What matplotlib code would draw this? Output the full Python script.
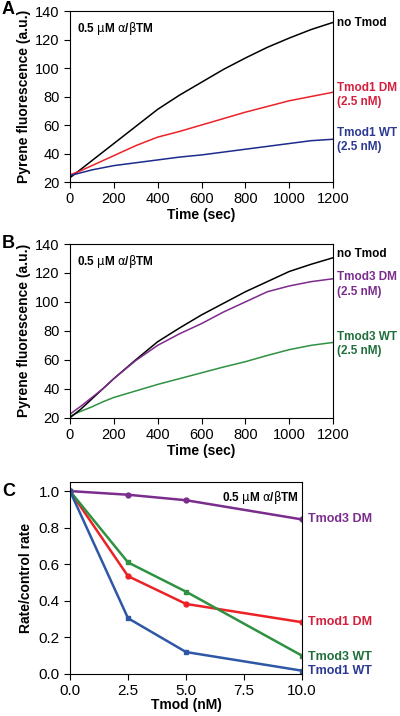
import numpy as np
import matplotlib
matplotlib.use('Agg')
import matplotlib.pyplot as plt
from matplotlib.ticker import FormatStrFormatter

plt.rcParams['font.family'] = ['Liberation Sans', 'DejaVu Sans']
plt.rcParams['mathtext.fontset'] = 'custom'
plt.rcParams['mathtext.rm'] = 'DejaVu Sans'
plt.rcParams['mathtext.it'] = 'DejaVu Sans'

#-------------------------------------------------------------------------------------
# panel A traces
time_a = [0, 50, 100, 150, 200, 300, 400, 500, 600, 700, 800, 900, 1000, 1100, 1200]
no_tmod_a = [23, 29, 35, 41, 47, 59, 71, 81, 90, 99, 107, 114.5, 121, 127, 132]
tmod1_dm = [25, 28, 31.5, 35, 38.5, 45.5, 51.5, 55.5, 60, 64.5, 69, 73, 77, 80, 83]
tmod1_wt = [24.5, 26.5, 28.5, 30, 31.5, 33.5, 35.5, 37.5, 39, 41, 43, 45, 47, 49, 50]

# panel B traces
time_b = [0, 50, 100, 150, 200, 300, 400, 500, 600, 700, 800, 900, 1000, 1100, 1200]
no_tmod_b = [20, 26, 33, 40, 47, 60, 72.5, 82, 91, 99, 107, 114, 121, 126, 130.5]
tmod3_dm = [22.5, 28, 34, 40, 47, 59.5, 70, 78, 85, 93, 100, 107, 111, 114, 116]
tmod3_wt = [21, 24.5, 27.5, 31, 34, 38.5, 43, 47, 51, 55, 58.7, 63, 67, 70, 72]

# panel C rates
tmod_nm = [0, 2.5, 5, 10]
rate_tmod3_dm = [1.0, 0.98, 0.95, 0.845]
rate_tmod1_dm = [1.0, 0.535, 0.383, 0.283]
rate_tmod3_wt = [1.0, 0.61, 0.45, 0.1]
rate_tmod1_wt = [1.0, 0.305, 0.12, 0.018]

#-------------------------------------------------------------------------------------
fig = plt.figure(figsize=(4.0, 7.16), dpi=100)
axA = fig.add_axes([0.175, 0.7458, 0.6575, 0.2388])
axB = fig.add_axes([0.175, 0.4166, 0.6575, 0.2426])
axC = fig.add_axes([0.175, 0.0587, 0.58, 0.2682])

inset = r'0.5 $\mu$M $\alpha$/$\beta$TM'


def trace_axes(ax):
    ax.set_xlim(0, 1200)
    ax.set_ylim(20, 140)
    ax.set_xticks(range(0, 1201, 200))
    ax.set_yticks(range(20, 141, 20))
    ax.tick_params(direction='out', length=4, labelsize=10.5, width=0.8)
    ax.set_xlabel('Time (sec)', fontsize=10, fontweight='bold', labelpad=1)
    ax.set_ylabel('Pyrene fluorescence (a.u.)', fontsize=10, fontweight='bold', labelpad=3)
    for s in ax.spines.values():
        s.set_linewidth(0.8)
    ax.text(0.025, 0.95, inset, transform=ax.transAxes, fontsize=8.5,
            fontweight='bold', va='top', ha='left')


# panel A
trace_axes(axA)
axA.plot(time_a, no_tmod_a, color='black', lw=1.1)
axA.plot(time_a, tmod1_dm, color='#ec2227', lw=1.1)
axA.plot(time_a, tmod1_wt, color='#1d2b8c', lw=1.1)
tr = axA.get_yaxis_transform()
axA.text(1.015, 131.6, 'no Tmod', transform=tr, fontsize=8.5, fontweight='bold', va='center')
axA.text(1.015, 81, 'Tmod1 DM\n(2.5 nM)', transform=tr, fontsize=8.5, fontweight='bold',
         va='center', color='#d31f3b', linespacing=1.25)
axA.text(1.015, 49.5, 'Tmod1 WT\n(2.5 nM)', transform=tr, fontsize=8.5, fontweight='bold',
         va='center', color='#2b3990', linespacing=1.25)

# panel B
trace_axes(axB)
axB.plot(time_b, tmod3_wt, color='#2f9142', lw=1.1)
axB.plot(time_b, no_tmod_b, color='black', lw=1.1)
axB.plot(time_b, tmod3_dm, color='#7d2a8c', lw=1.1)
tr = axB.get_yaxis_transform()
axB.text(1.015, 133, 'no Tmod', transform=tr, fontsize=8.5, fontweight='bold', va='center')
axB.text(1.015, 112, 'Tmod3 DM\n(2.5 nM)', transform=tr, fontsize=8.5, fontweight='bold',
         va='center', color='#7b2d8e', linespacing=1.25)
axB.text(1.015, 70.8, 'Tmod3 WT\n(2.5 nM)', transform=tr, fontsize=8.5, fontweight='bold',
         va='center', color='#1f6e3c', linespacing=1.25)

# panel C
axC.plot(tmod_nm, rate_tmod3_dm, color='#7b2d8e', lw=1.8, marker='o', ms=3.5)
axC.plot(tmod_nm, rate_tmod1_dm, color='#ec2227', lw=1.8, marker='o', ms=3.5)
axC.plot(tmod_nm, rate_tmod3_wt, color='#2f9142', lw=1.8, marker='s', ms=3.2)
axC.plot(tmod_nm, rate_tmod1_wt, color='#2e57a6', lw=1.8, marker='s', ms=3.2)
axC.set_xlim(0, 10)
axC.set_ylim(0, 1.05)
axC.set_xticks([0, 2.5, 5, 7.5, 10])
axC.set_yticks([0, 0.2, 0.4, 0.6, 0.8, 1.0])
axC.xaxis.set_major_formatter(FormatStrFormatter('%.1f'))
axC.yaxis.set_major_formatter(FormatStrFormatter('%.1f'))
axC.tick_params(direction='out', length=4, labelsize=11, width=0.8)
axC.set_xlabel('Tmod (nM)', fontsize=10, fontweight='bold', labelpad=0)
axC.set_ylabel('Rate/control rate', fontsize=10, fontweight='bold', labelpad=4)
for s in axC.spines.values():
    s.set_linewidth(0.8)
axC.text(0.985, 0.965, inset, transform=axC.transAxes, fontsize=8.5,
         fontweight='bold', va='top', ha='right')
tr = axC.get_yaxis_transform()
axC.text(1.025, rate_tmod3_dm[-1], 'Tmod3 DM', transform=tr, fontsize=9, fontweight='bold',
         va='center', color='#7b2d8e')
axC.text(1.025, rate_tmod1_dm[-1], 'Tmod1 DM', transform=tr, fontsize=9, fontweight='bold',
         va='center', color='#d31f3b')
axC.text(1.025, 0.095, 'Tmod3 WT', transform=tr, fontsize=9, fontweight='bold',
         va='center', color='#1f6e3c')
axC.text(1.025, 0.018, 'Tmod1 WT', transform=tr, fontsize=9, fontweight='bold',
         va='center', color='#2b3990')

# panel letters
fig.text(0.005, 0.998, 'A', fontsize=13, fontweight='bold', va='top')
fig.text(0.005, 0.672, 'B', fontsize=13, fontweight='bold', va='top')
fig.text(0.005, 0.326, 'C', fontsize=13, fontweight='bold', va='top')

fig.savefig('out.png', dpi=100)
